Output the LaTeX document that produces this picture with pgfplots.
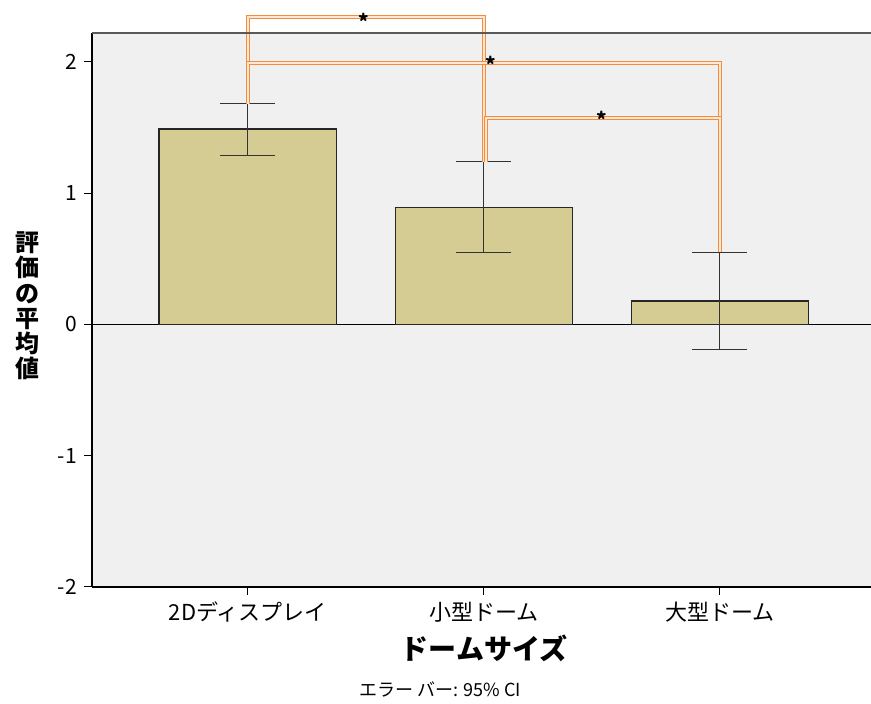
\documentclass[border=0pt]{standalone}
\usepackage{pgfplots}
\pgfplotsset{compat=1.18}
\usepackage{fontspec}
\setmainfont{Noto Sans CJK JP}
\definecolor{bgc}{RGB}{240,240,240}
\definecolor{barc}{RGB}{212,204,147}
\definecolor{orc}{RGB}{245,140,60}
\begin{document}
\begin{tikzpicture}[x=1pt,y=1pt]
\path[use as bounding box] (0,0) rectangle (435.5,352);
\begin{axis}[
  at={(46pt,58.5pt)}, anchor=south west, scale only axis,
  width=389.5pt, height=277pt,
  xmin=-0.66, xmax=2.64, ymin=-2, ymax=2.22,
  clip=false,
  axis background/.style={fill=bgc},
  axis x line*=bottom, axis y line*=left,
  axis line style={black, line width=0.8pt},
  xtick={0,1,2}, xticklabels={2Dディスプレイ,小型ドーム,大型ドーム},
  ytick={-2,-1,0,1,2},
  tick align=outside, major tick length=4pt,
  tick style={black, line width=0.5pt},
  x tick label style={font=\fontsize{11}{13}\selectfont},
  y tick label style={font=\fontsize{10.5}{12}\selectfont},
  /pgf/number format/assume math mode=true,
  bra/.style={draw=orc, line width=0.5pt, double=white!80!orc, double distance=0.9pt},
]
\addplot[black, line width=0.6pt] coordinates {(-0.66,0) (2.64,0)};
\addplot[ybar, bar width=0.75, fill=barc, draw=black!85, line width=0.8pt,
  error bars/.cd, y dir=both, y explicit,
  error bar style={black!80, line width=0.5pt},
  error mark options={rotate=90, mark size=13.75pt, line width=0.5pt, black!80}]
  coordinates {
  (0,1.49) += (0,0.19) -= (0,0.20)
  (1,0.89) += (0,0.35) -= (0,0.34)
  (2,0.18) += (0,0.37) -= (0,0.37)
  };
\addplot[bra] coordinates {(0,1.68) (0,2.34) (1,2.34) (1,1.24)};
\addplot[bra] coordinates {(0,1.68) (0,1.99) (2,1.99) (2,0.55)};
\addplot[bra] coordinates {(1.01,1.24) (1.01,1.57) (2,1.57) (2,0.55)};
\node[font=\fontsize{10}{10}\selectfont\bfseries] at (axis cs:0.49,2.31) {*};
\node[font=\fontsize{10}{10}\selectfont\bfseries] at (axis cs:1.03,1.98) {*};
\node[font=\fontsize{10}{10}\selectfont\bfseries] at (axis cs:1.5,1.56) {*};
\draw[black!65, line width=1pt] (rel axis cs:0,1) -- (rel axis cs:1,1);
\end{axis}
\node[font=\bfseries\fontsize{12}{12.6}\selectfont, align=center] at (14,199) {評\\価\\の\\平\\均\\値};
\node[font=\bfseries\fontsize{14}{16}\selectfont] at (242,28) {ドームサイズ};
\node[font=\fontsize{9}{11}\selectfont] at (220,7) {エラー バー: 95\% CI};
\end{tikzpicture}
\end{document}
